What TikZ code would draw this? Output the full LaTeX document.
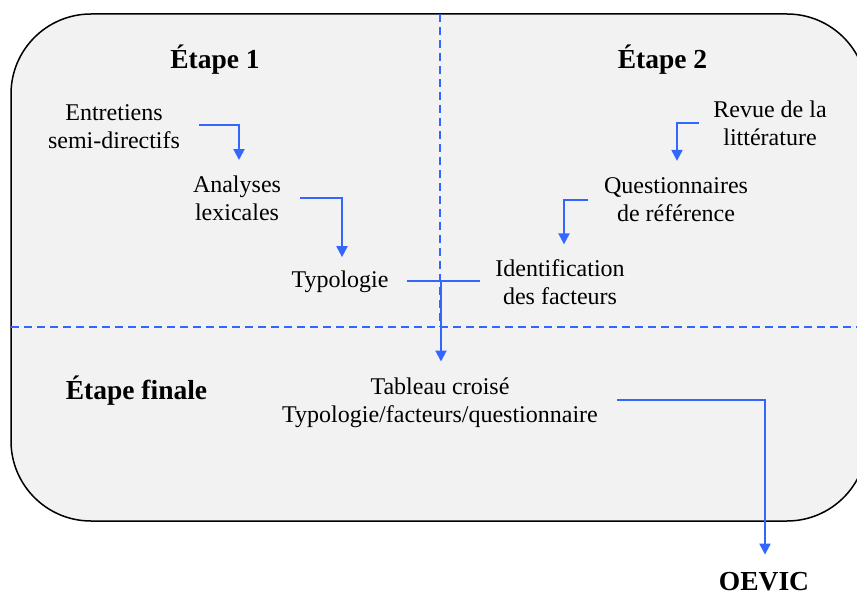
\documentclass[tikz,border=0pt]{standalone}
\usepackage{fontspec}
\setmainfont{Liberation Serif}
\usetikzlibrary{arrows.meta}
\definecolor{lineblue}{RGB}{51,102,255}
\definecolor{boxgray}{RGB}{242,242,242}
\begin{document}
\begin{tikzpicture}[x=1pt,y=-1pt,
  txt/.style={inner sep=0pt, align=center, font=\fontsize{24}{27.7}\selectfont},
  ttl/.style={inner sep=0pt, anchor=base, font=\fontsize{27.5}{33}\selectfont\bfseries},
  conn/.style={draw=lineblue, line width=2pt, -{Triangle[length=11pt,width=11pt]}},
  link/.style={draw=lineblue, line width=2pt},
  sep/.style={draw=lineblue, line width=1.5pt, dash pattern=on 8pt off 5pt},
  frame/.style={draw=black, fill=boxgray, line width=1.5pt, rounded corners=80pt}]
\useasboundingbox (0,0) rectangle (857,593);
\clip (0,0) rectangle (857,593);
% frame
\draw[frame] (11,14) rectangle (867,521);
% separators
\draw[sep] (440,14) -- (440,327);
\draw[sep] (11,327) -- (857,327);
% titles
\node[ttl] (e1) at (215,68.5) {Étape 1};
\node[ttl] (e2) at (662.5,68.5) {Étape 2};
\node[ttl] (ef) at (136.5,400) {Étape finale};
\node[ttl] (oev) at (764,590) {OEVIC};
% texts
\node[txt] (ent) at (114,126.5) {Entretiens\\semi-directifs};
\node[txt] (ana) at (237,198.5) {Analyses\\lexicales};
\node[txt, anchor=base] (typ) at (340,288) {Typologie};
\node[txt] (rev) at (770,123) {Revue de la\\littérature};
\node[txt] (que) at (676,200) {Questionnaires\\de référence};
\node[txt] (ide) at (560,282) {Identification\\des facteurs};
\node[txt] (tab) at (440,402.5) {Tableau croisé\\Typologie/facteurs/questionnaire};
% connectors
\coordinate (j) at (441,281);
\draw[conn] ([xshift=19pt,yshift=1pt]ent.east) -| ([xshift=2pt,yshift=16pt]ana.north);
\draw[conn] ([xshift=19pt]ana.east) -| ([xshift=2pt,yshift=14pt]typ.north);
\draw[conn] ([xshift=-14.5pt]rev.west) -| ([xshift=1pt,yshift=17pt]que.north);
\draw[conn] ([xshift=-16pt]que.west) -| ([xshift=4pt,yshift=15pt]ide.north);
\draw[link] ([xshift=18pt]typ.east |- j) -- ([xshift=-15pt]ide.west |- j);
\draw[conn] (j) -- ([yshift=16pt]tab.north -| j);
\draw[conn] ([xshift=19.5pt,yshift=2.5pt]tab.east) -| ([xshift=1pt,yshift=17pt]oev.north);
\end{tikzpicture}
\end{document}
